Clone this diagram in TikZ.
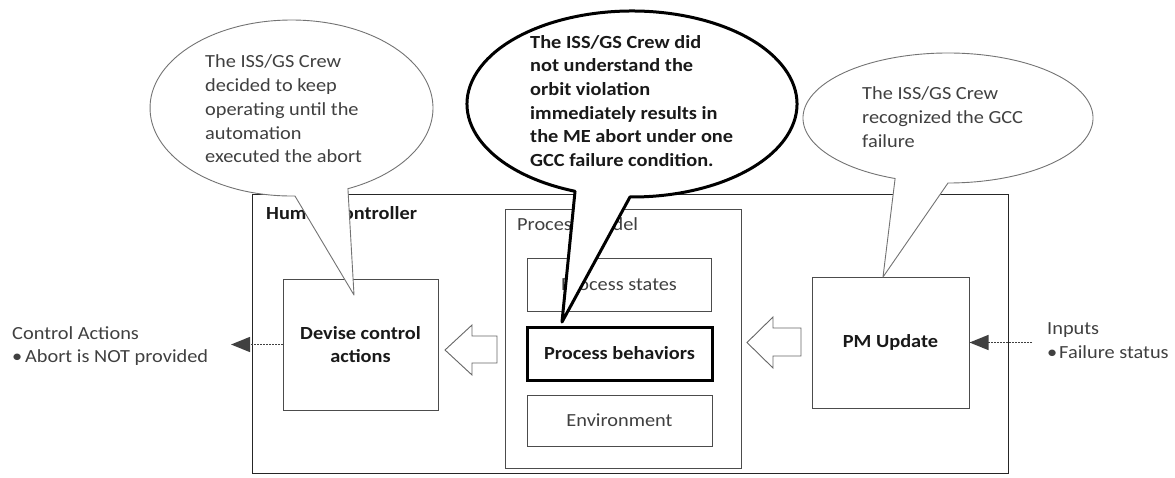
\documentclass[tikz,border=0pt]{standalone}
\usepackage{fontspec}
\setmainfont{Carlito}[FakeStretch=1.1]
\usetikzlibrary{arrows.meta}

\tikzset{
  txt/.style={text=black!75, font=\fontsize{18.5}{23.7}\selectfont, inner sep=0pt},
  boldtxt/.style={text=black!90, font=\fontsize{18.5}{23.7}\selectfont\bfseries, inner sep=0pt},
  box/.style={draw=black!70, line width=1pt, inner sep=0pt},
  bubble/.style={draw=black!55, line width=0.9pt, fill=white, line join=round},
  bigbubble/.style={draw=black, line width=3pt, fill=white, line join=round},
  flow/.style={draw=black!75, line width=1.4pt, dash pattern=on 2pt off 1pt,
    -{Triangle[length=19pt,width=15pt]}},
  blockarrow/.style={draw=black!60, line width=0.9pt, fill=white},
}

\begin{document}
\begin{tikzpicture}[x=1pt, y=1pt, yscale=-1]
\useasboundingbox (0,0) rectangle (1175,477);

% Human controller frame
\node[box, draw=black!85, minimum width=756pt, minimum height=279pt, anchor=north west] (hc) at (252,194) {};
\node[boldtxt, anchor=base west] (hclabel) at (266,219) {Human Controller};

% Process model and its parts
\node[box, minimum width=236pt, minimum height=259pt, anchor=north west] (pmod) at (505,209) {};
\node[txt, anchor=base west] (pmodlabel) at (517,230) {Process Model};
\node[box, txt, minimum width=184pt, minimum height=53pt] (ps) at (619,284.5) {Process states};
\node[box, boldtxt, draw=black, line width=3pt, minimum width=185pt, minimum height=53pt] (pb) at (619.5,353.5) {Process behaviors};
\node[box, txt, minimum width=185pt, minimum height=51pt] (env) at (619.5,420.5) {Environment};

% Controller functions
\node[box, boldtxt, align=center, minimum width=155pt, minimum height=131pt] (dev) at (360.5,344.5) {Devise control\\actions};
\node[box, boldtxt, minimum width=157pt, minimum height=131pt] (pmu) at (890.5,342.5) {PM Update};

% Hollow block arrows between the functions
\draw[blockarrow] (445,350) -- (472,325) -- (472,336) -- (497,336) -- (497,363) -- (472,363) -- (472,375) -- cycle;
\draw[blockarrow] (747,342.5) -- (773,317) -- (773,328) -- (801,328) -- (801,356) -- (773,356) -- (773,368) -- cycle;

% Control actions out, inputs in
\coordinate (caEnd) at (231,344.5);
\draw[flow] (dev.west) -- (caEnd);
\node[txt, align=left, anchor=west] (calabel) at (12,346) {Control Actions\\\makebox[13pt][l]{•}Abort is NOT provided};

\coordinate (inStart) at (1032,342.5);
\draw[flow] (inStart) -- (pmu.east);
\node[txt, align=left, anchor=west] (inlabel) at (1047,340.5) {Inputs\\\makebox[12pt][l]{•}Failure status};

% Speech bubbles
\coordinate (lc) at (291.5,108);
\coordinate (ltip) at (354,295);
\path[bubble] (lc) ++(88.6:141.5 and 88) arc[start angle=88.6, end angle=426.5, x radius=141.5, y radius=88] -- (ltip) -- cycle;
\node[txt, align=left, anchor=west] (ltext) at (205,109) {The ISS/GS Crew\\decided to keep\\operating until the\\automation\\executed the abort};

\coordinate (mc) at (632,104);
\coordinate (mtip) at (562,322);
\path[bigbubble] (mc) ++(110.2:165 and 93) arc[start angle=110.2, end angle=450.7, x radius=165, y radius=93] -- (mtip) -- cycle;
\node[boldtxt, align=left, anchor=west] (mtext) at (530,101) {The ISS/GS Crew did\\not understand the\\orbit violation\\immediately results in\\the ME abort under one\\GCC failure condition.};

\coordinate (rc) at (948,118);
\coordinate (rtip) at (883,277);
\path[bubble] (rc) ++(111.4:145 and 65) arc[start angle=111.4, end angle=450, x radius=145, y radius=65] -- (rtip) -- cycle;
\node[txt, align=left, anchor=west] (rtext) at (862,117) {The ISS/GS Crew\\recognized the GCC\\failure};

\end{tikzpicture}
\end{document}
